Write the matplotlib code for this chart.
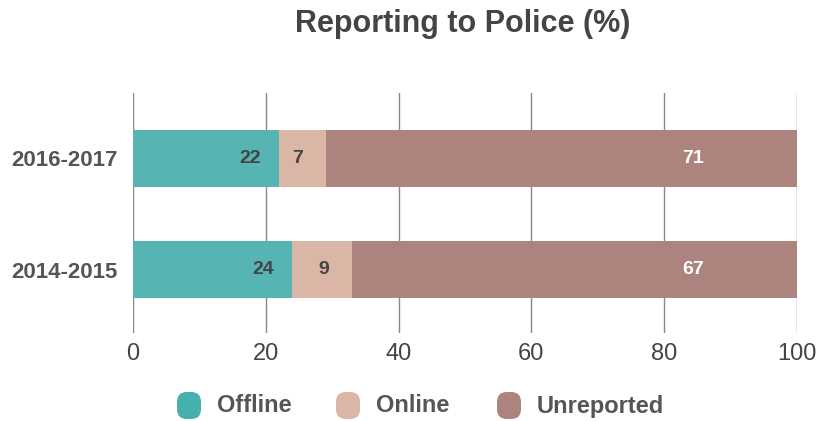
import numpy as np
import matplotlib.pyplot as plt
from matplotlib.patches import FancyBboxPatch

years = ['2014-2015', '2016-2017']
offline = [24, 22]
online = [9, 7]
unreported = [67, 71]
series_names = ['Offline', 'Online', 'Unreported']
colors = ['#56b4b3', '#d9b6a6', '#ad847d']
legend_colors = ['#45b0ae', '#d9b6a6', '#ad847d']

fam = ['Liberation Sans', 'DejaVu Sans']
textc = '#444444'

fig = plt.figure(figsize=(8.17, 4.21), dpi=100)
ax = fig.add_axes([133 / 817, 88 / 421, (797 - 133) / 817, (333 - 93) / 421])

y = np.arange(len(years))
left = np.zeros(len(years))
pads = [2.8, 3.4, 14]
for vals, col, pad, name in zip([offline, online, unreported], colors, pads, series_names):
    ax.barh(y, vals, left=left, height=0.514, color=col, zorder=2)
    for yi, l, v in zip(y, left, vals):
        tc = 'white' if name == 'Unreported' else textc
        ax.text(l + v - pad, yi, str(v), ha='right', va='center', fontsize=14,
                fontweight='bold', color=tc, family=fam, zorder=3)
    left = left + np.array(vals)

ax.set_xlim(0, 100)
ax.set_ylim(-0.572, 1.59)
ax.set_xticks([0, 20, 40, 60, 80, 100])
ax.grid(axis='x', color='#888888', linewidth=1, zorder=0)
for s in ax.spines.values():
    s.set_visible(False)
ax.tick_params(axis='x', length=0, pad=7, labelsize=17, labelcolor=textc)
ax.tick_params(axis='y', length=0, pad=11)
for lab in ax.get_xticklabels():
    lab.set_family(fam)
ax.set_yticks(y)
ax.set_yticklabels(years, fontsize=16, fontweight='bold', color='#555555', family=fam)

fig.text(463 / 817, 1 - 24 / 421, 'Reporting to Police (%)', ha='center', va='center',
         fontsize=22, fontweight='bold', color=textc, family=fam)

# legend
lx = [177, 336, 497]
for x0, col, name in zip(lx, legend_colors, series_names):
    box = FancyBboxPatch((x0 / 817, 1 - 419 / 421), 24 / 817, 27 / 421,
                         boxstyle='round,pad=0,rounding_size=0.012',
                         transform=fig.transFigure, facecolor=col, edgecolor='none',
                         mutation_aspect=817 / 421)
    fig.patches.append(box)
    fig.text((x0 + 40) / 817, 1 - 406 / 421, name, ha='left', va='center',
             fontsize=17, fontweight='bold', color='#555555', family=fam)

fig.savefig('out.png', dpi=100)
